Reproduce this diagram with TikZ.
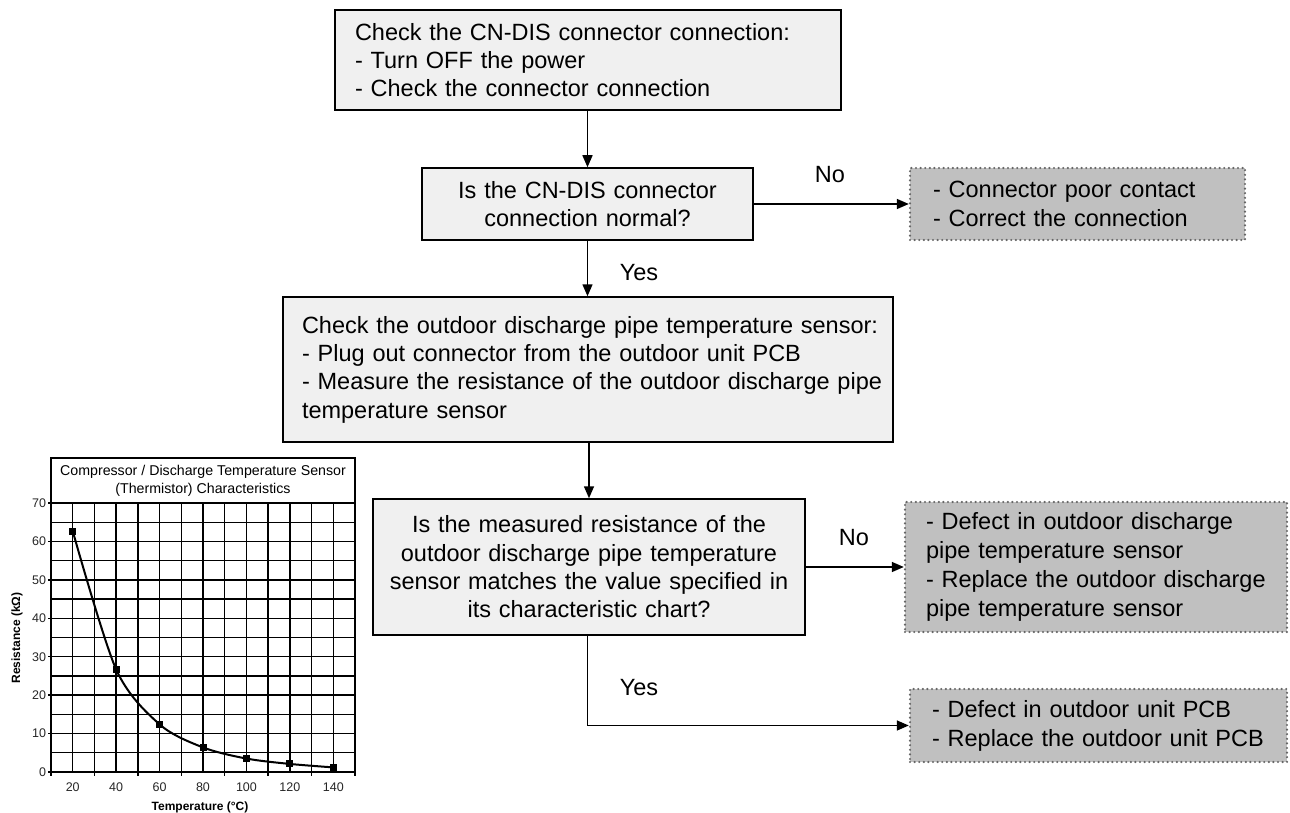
\documentclass[tikz,border=0pt]{standalone}
\usepackage{fontspec}
\setmainfont{Liberation Sans}
\usetikzlibrary{arrows.meta}
\definecolor{boxfill}{HTML}{F0F0F0}
\definecolor{dotfill}{HTML}{C0C0C0}
\definecolor{dotline}{HTML}{666666}
\begin{document}
\begin{tikzpicture}[x=1pt,y=-1pt,
  procbox/.style={draw=black, line width=1.5pt, fill=boxfill, inner sep=0pt,
    font=\fontsize{23.5}{28.3}\selectfont},
  resbox/.style={fill=dotfill, draw=dotline, line width=2.4pt,
    dash pattern=on 0pt off 4.6pt, line cap=round, inner sep=0pt,
    font=\fontsize{23.5}{29}\selectfont},
  flow/.style={line width=1.5pt, -{Triangle[length=12pt,width=10pt]}},
  lbl/.style={inner sep=0pt, font=\fontsize{23.5}{26}\selectfont},
  gridline/.style={line width=1.3pt, black},
  ticklbl/.style={inner sep=0pt, text=black!85, font=\fontsize{12.5}{15}\selectfont},
  axislbl/.style={inner sep=0pt, font=\bfseries\fontsize{12}{14}\selectfont}]
\useasboundingbox (0,0) rectangle (1290,813);

% ---------- flowchart boxes ----------
\node[procbox, minimum width=506pt, minimum height=100pt, text width=466pt, align=left]
  (b1) at (588,60) {Check the CN-DIS connector connection:\\- Turn OFF the power\\- Check the connector connection};
\node[procbox, minimum width=331pt, minimum height=72pt, text width=311pt, align=center]
  (b2) at (587.5,204) {Is the CN-DIS connector\\connection normal?};
\node[resbox, minimum width=335pt, minimum height=72pt, text width=289pt, align=left]
  (b3) at (1077.5,204) {\mbox{- Connector poor contact}\\\mbox{- Correct the connection}};
\node[procbox, minimum width=610pt, minimum height=145pt, text width=572pt, align=left]
  (b4) at (588,369.5) {\mbox{Check the outdoor discharge pipe temperature sensor:}\\\mbox{- Plug out connector from the outdoor unit PCB}\\\mbox{- Measure the resistance of the outdoor discharge pipe}\\temperature sensor};
\node[procbox, minimum width=432pt, minimum height=136pt, text width=420pt, align=center]
  (b5) at (589,567) {Is the measured resistance of the\\outdoor discharge pipe temperature\\sensor matches the value specified in\\its characteristic chart?};
\node[resbox, minimum width=382pt, minimum height=130pt, text width=340pt, align=left]
  (b6) at (1096,567) {\mbox{- Defect in outdoor discharge}\\pipe temperature sensor\\\mbox{- Replace the outdoor discharge}\\pipe temperature sensor};
\node[resbox, minimum width=377pt, minimum height=73pt, text width=333pt, align=left]
  (b7) at (1098.5,725.5) {\mbox{- Defect in outdoor unit PCB}\\\mbox{- Replace the outdoor unit PCB}};

% ---------- connectors ----------
\draw[flow] (b2.north |- b1.south) -- (b2.north);
\draw[flow] (b2.east) -- (b3.west);
\node[lbl] (no1) at (830,175) {No};
\draw[flow] (b2.south) -- (b2.south |- b4.north);
\node[lbl] (yes1) at (639,273) {Yes};
\draw[flow] (b5.north |- b4.south) -- (b5.north);
\draw[flow] (b5.east) -- (b6.west);
\node[lbl] (no2) at (854,538) {No};
\coordinate (bend) at (b2.south |- b7.west);
\draw[flow] (b2.south |- b5.south) -- (bend) -- (b7.west);
\node[lbl] (yes2) at (639,688) {Yes};

% ---------- chart ----------
\node[draw=black, line width=1.3pt, fill=white, minimum width=304pt, minimum height=45pt,
  inner sep=0pt, align=center, font=\fontsize{14.2}{18}\selectfont]
  (title) at (203,480.5) {Compressor / Discharge Temperature Sensor\\(Thermistor) Characteristics};
\begin{scope}[shift={(51,772)}, x=2.1714pt, y=3.843pt]
  \foreach \t in {0,10,...,140} \draw[gridline] (\t,0) -- (\t,70);
  \foreach \r in {0,5,...,70} \draw[gridline] (0,\r) -- (140,\r);
  \foreach \r in {0,10,...,70} {
    \draw[gridline] (-1.3,\r) -- (0,\r);
    \node[ticklbl, anchor=east] (yt\r) at (-2.2,\r) {\r};
  }
  \foreach \t in {0,20,...,140} \draw[gridline] (\t,0) -- (\t,-1);
  \foreach \t [evaluate=\t as \lab using int(\t+10)] in {10,30,...,130}
    \node[ticklbl] (xt\t) at (\t,-3.9) {\lab};
  \draw[line width=2pt, black] plot[smooth, tension=0.5] coordinates
    {(10,62.7) (30,26.7) (50,12.4) (70,6.4) (90,3.5) (110,2.1) (130,1.2)};
  \foreach \p/\q in {10/62.7,30/26.7,50/12.4,70/6.4,90/3.5,110/2.1,130/1.2}
    \node[fill=black, minimum size=7pt, inner sep=0pt] (m\p) at (\p,\q) {};
\end{scope}
\node[axislbl] (xlab) at (200,807) {Temperature (°C)};
\node[axislbl, rotate=90] (ylab) at (17,638) {Resistance (kΩ)};
\end{tikzpicture}
\end{document}
